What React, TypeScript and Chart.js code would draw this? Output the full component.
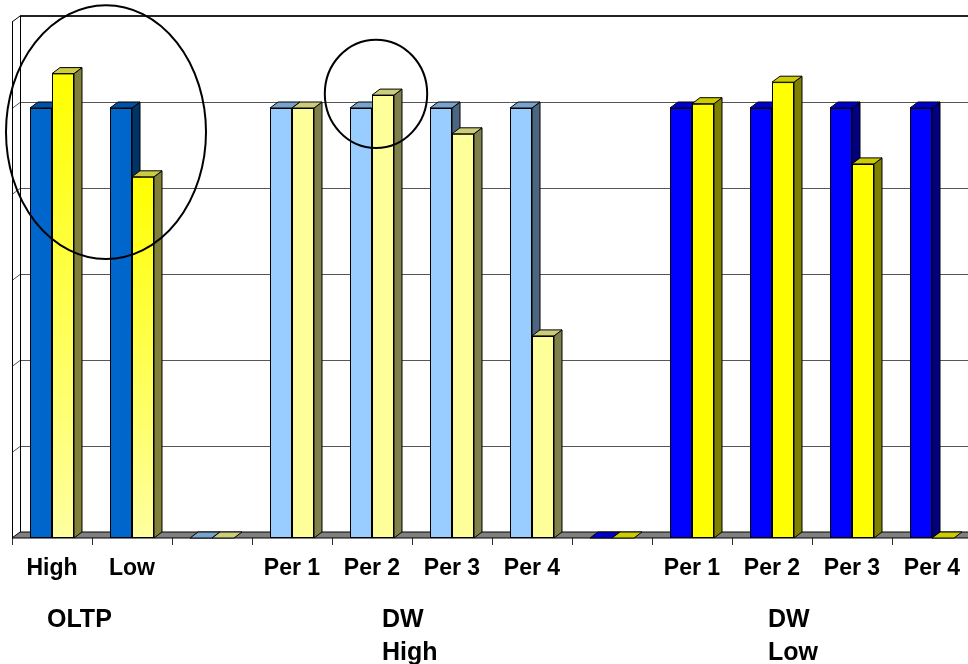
import React, { useEffect, useRef } from 'react';
import { Chart, registerables } from 'chart.js';

Chart.register(...registerables);

// ---- data ----
const categories = ['High', 'Low', '', 'Per 1', 'Per 2', 'Per 3', 'Per 4', '', 'Per 1', 'Per 2', 'Per 3', 'Per 4'];
const blueValues = [100, 100, 0, 100, 100, 100, 100, 0, 100, 100, 100, 100];
const yellowValues = [108, 84, 0, 100, 103, 94, 47, 0, 101, 106, 87, 0];
const groupOf = [0, 0, 1, 1, 1, 1, 1, 2, 2, 2, 2, 2];
const groupLabels = [['OLTP'], ['DW', 'High'], ['DW', 'Low']];
const gridTicks = [20, 40, 60, 80, 100];
const yMax = 120;

// ---- styles ----
const BLUE_FRONT = ['#0066CC', '#99CCFF', '#0000FF'];
const BLUE_SIDE = ['#003366', '#4D6680', '#000080'];
const BLUE_TOP = ['#0052A3', '#7AA3CC', '#0000CC'];
const YELLOW_FRONT = ['#FFFF00', '#FFFF99', '#FFFF00'];
const YELLOW_SIDE = ['#80803A', '#80804D', '#808000'];
const YELLOW_TOP = ['#CCCC40', '#CCCC7A', '#CCCC00'];
const DX = 8;
const DY = -6;
const groupAnchor = [0, 4, 9];
const groupOffset = [-5, 10, -4];
const ellipses = [
  { cx: 0.675, cy: 94.4, rx: 1.25, ry: 29.5 },
  { cx: 4.05, cy: 103.3, rx: 0.64, ry: 12.6 },
];
const FONT = '"Liberation Sans", Arial, Helvetica, sans-serif';

export default function App() {
  const ref = useRef<HTMLCanvasElement>(null);

  useEffect(() => {
    const canvas = ref.current;
    if (!canvas) return;

    const yellowFill = (c: any) => {
      const g = groupOf[c.dataIndex];
      if (g !== 0) return YELLOW_FRONT[g];
      const chart = c.chart;
      const ys = chart.scales && chart.scales.y;
      if (!ys || !chart.chartArea) return '#FFFF00';
      const v = typeof c.raw === 'number' ? c.raw : 0;
      const top = ys.getPixelForValue(v);
      const bot = ys.getPixelForValue(0);
      if (!(bot > top)) return '#FFFF00';
      const grad = chart.ctx.createLinearGradient(0, top, 0, bot);
      grad.addColorStop(0, '#FFFF00');
      grad.addColorStop(1, '#FFFFA0');
      return grad;
    };

    const poly = (ctx: CanvasRenderingContext2D, pts: number[][], fill: string) => {
      ctx.beginPath();
      ctx.moveTo(pts[0][0], pts[0][1]);
      for (let i = 1; i < pts.length; i++) ctx.lineTo(pts[i][0], pts[i][1]);
      ctx.closePath();
      ctx.fillStyle = fill;
      ctx.fill();
      ctx.strokeStyle = '#000';
      ctx.lineWidth = 1;
      ctx.stroke();
    };

    const wallPlugin = {
      id: 'wall3d',
      beforeDatasetsDraw(chart: any) {
        const { ctx, chartArea } = chart;
        const { left, right, top, bottom } = chartArea;
        const ys = chart.scales.y;
        const far = right + 60;
        ctx.save();
        // gridlines on back wall + left wall
        ctx.strokeStyle = '#555';
        ctx.lineWidth = 1;
        for (const v of gridTicks) {
          const py = Math.round(ys.getPixelForValue(v) + DY) + 0.5;
          ctx.beginPath();
          ctx.moveTo(left + DX, py);
          ctx.lineTo(far, py);
          ctx.stroke();
          ctx.beginPath();
          ctx.moveTo(left, py - DY);
          ctx.lineTo(left + DX, py);
          ctx.stroke();
        }
        // top border of back wall
        const pTop = Math.round(ys.getPixelForValue(yMax) + DY);
        ctx.strokeStyle = '#222';
        ctx.lineWidth = 2;
        ctx.beginPath();
        ctx.moveTo(left + DX, pTop);
        ctx.lineTo(far, pTop);
        ctx.stroke();
        // left wall
        ctx.strokeStyle = '#000';
        ctx.lineWidth = 1;
        ctx.beginPath();
        ctx.moveTo(left + 0.5, top);
        ctx.lineTo(left + 0.5, bottom);
        ctx.moveTo(left + DX + 0.5, top + DY);
        ctx.lineTo(left + DX + 0.5, bottom + DY);
        ctx.moveTo(left, top);
        ctx.lineTo(left + DX, top + DY);
        ctx.stroke();
        // floor
        poly(ctx, [[left, bottom], [far, bottom], [far, bottom + DY], [left + DX, bottom + DY]], '#808080');
        ctx.restore();
      },
    };

    const barsPlugin = {
      id: 'bars3d',
      afterDatasetsDraw(chart: any) {
        const ctx = chart.ctx;
        const m0 = chart.getDatasetMeta(0);
        const m1 = chart.getDatasetMeta(1);
        const faces = (el: any, side: string, topC: string) => {
          const p = el.getProps(['x', 'y', 'base', 'width'], true);
          const l = p.x - p.width / 2;
          const r = p.x + p.width / 2;
          const t = Math.min(p.y, p.base);
          const b = Math.max(p.y, p.base);
          if (b - t > 0.5) {
            poly(ctx, [[r, t], [r + DX, t + DY], [r + DX, b + DY], [r, b]], side);
          }
          poly(ctx, [[l, t], [r, t], [r + DX, t + DY], [l + DX, t + DY]], topC);
        };
        ctx.save();
        for (let i = 0; i < categories.length; i++) {
          const g = groupOf[i];
          faces(m0.data[i], BLUE_SIDE[g], BLUE_TOP[g]);
          if (yellowValues[i] > 0) m1.data[i].draw(ctx);
          faces(m1.data[i], YELLOW_SIDE[g], YELLOW_TOP[g]);
        }
        ctx.restore();
      },
    };

    const annotPlugin = {
      id: 'annot',
      afterDraw(chart: any) {
        const ctx = chart.ctx;
        const xs = chart.scales.x;
        const ys = chart.scales.y;
        ctx.save();
        ctx.strokeStyle = '#000';
        ctx.lineWidth = 2;
        for (const e of ellipses) {
          const cx = xs.getPixelForValue(e.cx);
          const cy = ys.getPixelForValue(e.cy);
          const rx = xs.getPixelForValue(e.cx + e.rx) - cx;
          const ry = cy - ys.getPixelForValue(e.cy + e.ry);
          ctx.beginPath();
          ctx.ellipse(cx, cy, rx, ry, 0, 0, Math.PI * 2);
          ctx.stroke();
        }
        // group labels
        ctx.fillStyle = '#000';
        ctx.font = 'bold 25px ' + FONT;
        ctx.textAlign = 'left';
        ctx.textBaseline = 'alphabetic';
        const base = chart.chartArea.bottom;
        groupLabels.forEach((lines, g) => {
          const x = xs.getPixelForValue(groupAnchor[g]) + groupOffset[g];
          lines.forEach((txt, k) => {
            ctx.fillText(txt, x, base + 89 + k * 33);
          });
        });
        ctx.restore();
      },
    };

    const chart = new Chart(canvas, {
      type: 'bar',
      data: {
        labels: categories,
        datasets: [
          {
            label: 'Blue',
            data: blueValues,
            backgroundColor: groupOf.map((g) => BLUE_FRONT[g]),
            borderColor: '#000',
            borderWidth: 1,
            borderSkipped: false,
            categoryPercentage: 0.55,
            barPercentage: 1.0,
          },
          {
            label: 'Yellow',
            data: yellowValues,
            backgroundColor: yellowFill,
            borderColor: '#000',
            borderWidth: 1,
            borderSkipped: false,
            categoryPercentage: 0.55,
            barPercentage: 1.0,
          },
        ],
      },
      options: {
        responsive: false,
        animation: false,
        devicePixelRatio: 1,
        layout: { padding: { left: 12, top: 22, right: 28, bottom: 0 } },
        plugins: { legend: { display: false }, tooltip: { enabled: false }, title: { display: false } },
        events: [],
        scales: {
          x: {
            type: 'category',
            offset: true,
            afterFit: (s: any) => {
              s.height = 126;
            },
            grid: {
              offset: true,
              drawOnChartArea: false,
              drawTicks: true,
              tickLength: 7,
              color: '#333',
            },
            border: { display: false },
            ticks: {
              color: '#000',
              font: { family: FONT, size: 23, weight: 'bold' },
              padding: 10,
              maxRotation: 0,
              autoSkip: false,
            },
          },
          y: {
            display: false,
            min: 0,
            max: yMax,
          },
        },
      },
      plugins: [wallPlugin, barsPlugin, annotPlugin],
    } as any);

    return () => chart.destroy();
  }, []);

  return (
    <div
      style={{
        position: 'absolute',
        left: 0,
        top: 0,
        width: 968,
        height: 664,
        overflow: 'hidden',
        background: '#fff',
      }}
    >
      <canvas ref={ref} width={1000} height={664} style={{ display: 'block', width: 1000, height: 664 }} />
    </div>
  );
}
